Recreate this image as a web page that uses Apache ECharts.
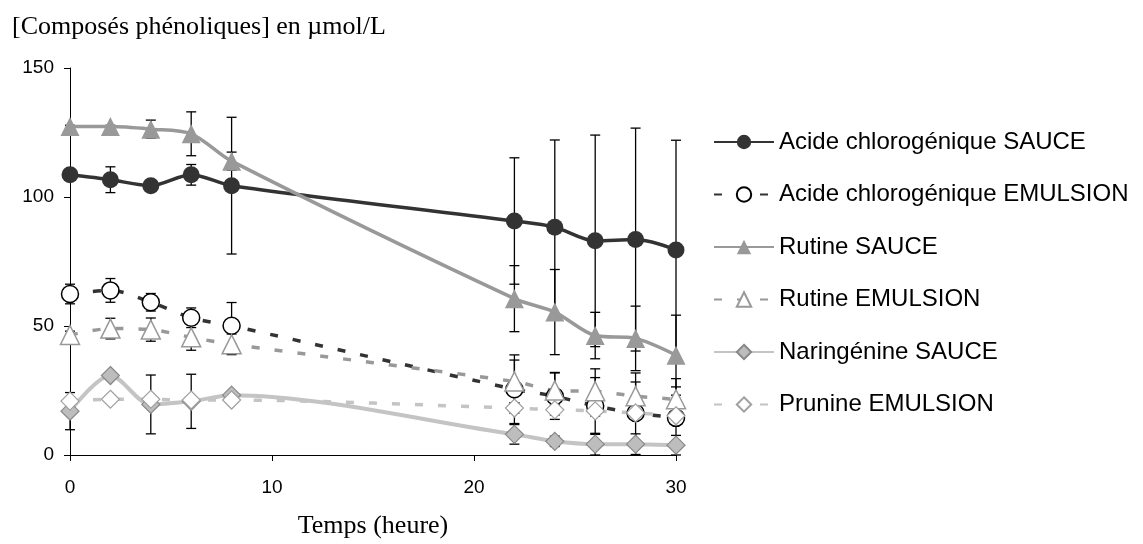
<!DOCTYPE html>
<html>
<head>
<meta charset="utf-8">
<script src="https://cdn.jsdelivr.net/npm/echarts@6/dist/echarts.min.js"></script>
<style>
html,body{margin:0;padding:0;background:#fff;}
#c{width:1143px;height:544px;}
</style>
</head>
<body>
<div id="c"></div>
<script>
// Data
var times = [0, 2, 4, 6, 8, 22, 24, 26, 28, 30];
var xTicks = [0, 10, 20, 30];
var yTicks = [0, 50, 100, 150];

var names = [
  'Acide chlorogénique SAUCE',
  'Acide chlorogénique EMULSION',
  'Rutine SAUCE',
  'Rutine EMULSION',
  'Naringénine SAUCE',
  'Prunine EMULSION'
];

var chloroSauce    = [108.6, 106.7, 104.4, 108.6, 104.4, 90.7, 88.3, 83.0, 83.5, 79.5];
var chloroSauceErr = [1, 5, 1.5, 4, 26.5, 24.5, 33.8, 41, 43.2, 42.5];

var chloroEmul     = [62.4, 63.8, 59.2, 53.2, 50.1, 25.5, 22.8, 19.0, 16.3, 14.4];
var chloroEmulErr  = [3.8, 4.6, 3.4, 3.8, 9, 13.3, 9, 11, 12, 12];

var rutineSauce    = [127.3, 127.3, 126.3, 124.5, 113.9, 60.6, 55.4, 46.3, 45.2, 38.7];
var rutineSauceErr = [0.5, 0.5, 3.5, 8.5, 3.5, 12.8, 16.5, 9, 12.5, 15.5];

var rutineEmul     = [46.5, 49.0, 48.6, 45.6, 42.9, 28.5, 25.0, 24.7, 22.8, 21.6];
var rutineEmulErr  = [1.5, 4, 4.5, 5, 4, 8.3, 7, 8.7, 9, 8];

var narinSauce     = [17.0, 30.8, 19.6, 20.8, 23.2, 8.0, 5.3, 4.2, 4.2, 3.8];
var narinSauceErr  = [7.2, 1, 11.4, 10.5, 1, 3.8, 2, 4.2, 4, 3.8];

var prunineEmul    = [20.9, 21.6, 21.6, 21.3, 21.3, 18.2, 17.5, 17.1, 16.3, 15.2];
var prunineEmulErr = [1, 1, 1, 1, 1, 2, 2, 2, 2, 2];

function pairs(vals) {
  return times.map(function (t, i) { return [t, vals[i]]; });
}

function errSeries(vals, errs) {
  return {
    type: 'custom',
    silent: true,
    z: 1,
    data: times.map(function (t, i) { return [t, vals[i], errs[i]]; }),
    renderItem: function (params, api) {
      var x = api.value(0), y = api.value(1), e = api.value(2);
      var top = api.coord([x, y + e]);
      var bot = api.coord([x, Math.max(0, y - e)]);
      var hw = 5;
      var st = { stroke: '#000', lineWidth: 1.3 };
      return {
        type: 'group',
        children: [
          { type: 'line', shape: { x1: top[0], y1: top[1], x2: bot[0], y2: bot[1] }, style: st },
          { type: 'line', shape: { x1: top[0] - hw, y1: top[1], x2: top[0] + hw, y2: top[1] }, style: st },
          { type: 'line', shape: { x1: bot[0] - hw, y1: bot[1], x2: bot[0] + hw, y2: bot[1] }, style: st }
        ]
      };
    }
  };
}

var dash = [8, 15];
var sm = 0.3;

var option = {
  animation: false,
  backgroundColor: '#fff',
  title: {
    text: '[Composés phénoliques] en µmol/L',
    left: 12, top: 14, padding: 0,
    textStyle: { fontFamily: 'Liberation Serif', fontSize: 26, fontWeight: 'normal', color: '#000' }
  },
  legend: {
    data: names,
    orient: 'vertical',
    left: 713, top: 130, padding: 0,
    itemWidth: 60, itemHeight: 18, itemGap: 28.5,
    textStyle: { fontFamily: 'Liberation Sans', fontSize: 24, color: '#000' },
    selectedMode: false
  },
  grid: { left: 70, right: 467, top: 68, bottom: 81 },
  xAxis: {
    type: 'value', min: 0, max: 30, interval: 10,
    name: 'Temps (heure)', nameLocation: 'middle', nameGap: 58,
    nameTextStyle: { fontFamily: 'Liberation Serif', fontSize: 26, color: '#000' },
    axisLine: { lineStyle: { color: '#000', width: 1 } },
    axisTick: { show: true, inside: false, length: 6, lineStyle: { color: '#000' } },
    axisLabel: {
      fontFamily: 'Liberation Sans', fontSize: 19, color: '#000', margin: 23,
      formatter: function (v) { return xTicks.indexOf(v) >= 0 ? String(v) : ''; }
    },
    splitLine: { show: false }
  },
  yAxis: {
    type: 'value', min: 0, max: 150, interval: 50,
    axisLine: { show: true, lineStyle: { color: '#000', width: 1 } },
    axisTick: { show: true, inside: false, length: 6, lineStyle: { color: '#000' } },
    axisLabel: {
      fontFamily: 'Liberation Sans', fontSize: 19, color: '#000', margin: 16,
      formatter: function (v) { return yTicks.indexOf(v) >= 0 ? String(v) : ''; }
    },
    splitLine: { show: false }
  },
  series: [
    errSeries(chloroSauce, chloroSauceErr),
    errSeries(chloroEmul, chloroEmulErr),
    errSeries(rutineSauce, rutineSauceErr),
    errSeries(rutineEmul, rutineEmulErr),
    errSeries(narinSauce, narinSauceErr),
    errSeries(prunineEmul, prunineEmulErr),
    {
      name: names[0], type: 'line', smooth: sm, data: pairs(chloroSauce),
      symbol: 'circle', symbolSize: 17,
      itemStyle: { color: '#333333' },
      lineStyle: { color: '#333333', width: 3.5 }
    },
    {
      name: names[1], type: 'line', smooth: sm, data: pairs(chloroEmul),
      symbol: 'circle', symbolSize: 17,
      itemStyle: { color: '#ffffff', borderColor: '#000000', borderWidth: 1.5 },
      lineStyle: { color: '#333333', width: 3.5, type: dash }
    },
    {
      name: names[2], type: 'line', smooth: sm, data: pairs(rutineSauce),
      symbol: 'triangle', symbolSize: 19,
      itemStyle: { color: '#999999' },
      lineStyle: { color: '#999999', width: 3.5 }
    },
    {
      name: names[3], type: 'line', smooth: sm, data: pairs(rutineEmul),
      symbol: 'triangle', symbolSize: 19,
      itemStyle: { color: '#ffffff', borderColor: '#999999', borderWidth: 1.5 },
      lineStyle: { color: '#999999', width: 3.5, type: dash }
    },
    {
      name: names[4], type: 'line', smooth: sm, data: pairs(narinSauce),
      symbol: 'diamond', symbolSize: 18,
      itemStyle: { color: '#bdbdbd', borderColor: '#888888', borderWidth: 1.2 },
      lineStyle: { color: '#c4c4c4', width: 4 }
    },
    {
      name: names[5], type: 'line', smooth: sm, data: pairs(prunineEmul),
      symbol: 'diamond', symbolSize: 18,
      itemStyle: { color: '#ffffff', borderColor: '#a0a0a0', borderWidth: 1.2 },
      lineStyle: { color: '#c4c4c4', width: 3.5, type: dash }
    }
  ]
};

var chart = echarts.init(document.getElementById('c'), null, { renderer: 'canvas' });
chart.setOption(option);
</script>
</body>
</html>
